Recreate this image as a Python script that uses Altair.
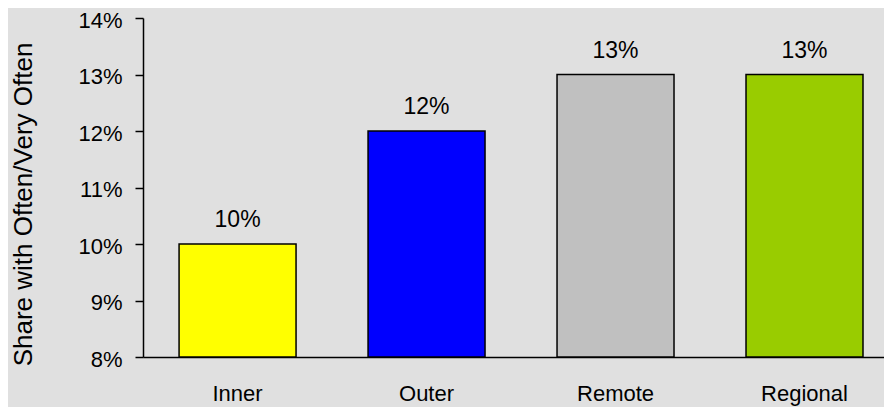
import altair as alt
import pandas as pd

categories = ["Inner", "Outer", "Remote", "Regional"]
values = [0.10, 0.12, 0.13, 0.13]
labels = ["10%", "12%", "13%", "13%"]
colors = ["#ffff00", "#0000ff", "#c0c0c0", "#99cc00"]
y_ticks = [0.08, 0.09, 0.10, 0.11, 0.12, 0.13, 0.14]
y_title = "Share with Often/Very Often"

df = pd.DataFrame({"category": categories, "value": values, "label": labels})

FONT = "Liberation Sans"

x_enc = alt.X(
    "category:N",
    sort=categories,
    scale=alt.Scale(paddingInner=0.381, paddingOuter=0.151, align=0.632),
    axis=alt.Axis(
        title=None, labelAngle=0, ticks=False, tickSize=0, labelPadding=26,
        labelFontSize=22, labelFont=FONT, labelColor="#000000",
        domainColor="#000000", domainWidth=1.5, grid=False,
    ),
)
y_enc = alt.Y(
    "value:Q",
    scale=alt.Scale(domain=[0.08, 0.14], zero=False, nice=False),
    axis=alt.Axis(
        values=y_ticks, format=".0%", title=y_title, grid=False,
        tickSize=8, tickWidth=1.5, tickColor="#000000",
        domainColor="#000000", domainWidth=1.5,
        labelFontSize=22, labelFont=FONT, labelColor="#000000", labelPadding=13,
        labelOffset=2,
        titleFont=FONT, titleFontSize=26, titleFontWeight="normal", titleColor="#000000",
        titleAngle=270, titleAlign="center", titleBaseline="middle",
        titleX=-120, titleY=186,
    ),
)

bars = alt.Chart(df).mark_bar(stroke="#000000", strokeWidth=1.5).encode(
    x=x_enc,
    y=y_enc,
    y2=alt.datum(0.08),
    color=alt.Color("category:N", sort=categories,
                    scale=alt.Scale(domain=categories, range=colors), legend=None),
)

text = alt.Chart(df).mark_text(
    font=FONT, fontSize=23, color="#000000", baseline="middle", dy=-24
).encode(
    x=alt.X("category:N", sort=categories),
    y=alt.Y("value:Q"),
    text="label:N",
)

chart = alt.layer(bars, text).properties(
    width=741, height=339,
    autosize=alt.AutoSizeParams(type="none"),
    padding={"left": 135, "top": 10, "right": 0, "bottom": 50},
    background="#e0e0e0",
).configure_view(stroke=None)

chart.save("out.html", embed_options={"renderer": "svg", "actions": False})
